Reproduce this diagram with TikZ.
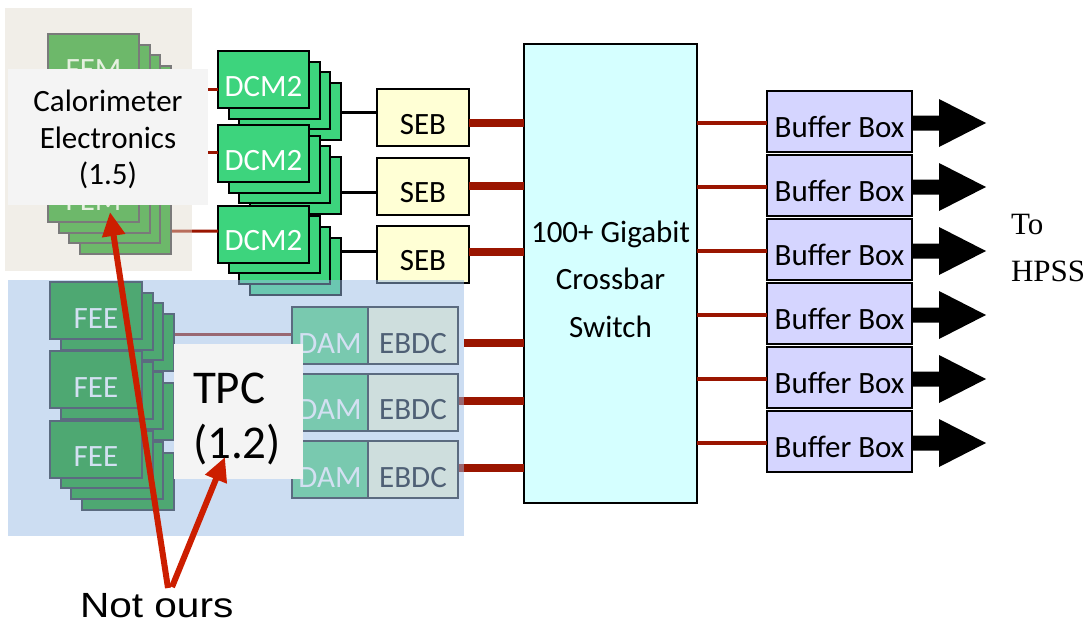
\documentclass[tikz,border=0pt]{standalone}
\usepackage{fontspec}
\setmainfont{Carlito}
\newfontfamily\timesfont{Liberation Serif}
\newfontfamily\notfont[FakeStretch=1.16]{Liberation Sans}
\usetikzlibrary{arrows.meta,calc}
\definecolor{femfill}{HTML}{6DB86A}
\definecolor{femedge}{HTML}{7A7A7A}
\definecolor{femtext}{HTML}{E6F0E0}
\definecolor{calbase}{HTML}{E0D9CC}
\definecolor{labelgray}{HTML}{F4F4F4}
\definecolor{dcmfill}{HTML}{3DD47D}
\definecolor{sebfill}{HTML}{FFFFD5}
\definecolor{swfill}{HTML}{D5FFFF}
\definecolor{buffill}{HTML}{D5D5FF}
\definecolor{redline}{HTML}{9A1500}
\definecolor{tpcbase}{HTML}{99BBE5}
\definecolor{feefill}{HTML}{4EA872}
\definecolor{damfill}{HTML}{79C9AF}
\definecolor{ebdcfill}{HTML}{CEDEDD}
\definecolor{tpcedge}{HTML}{5B6B80}
\definecolor{lavtext}{HTML}{D3E0F2}
\definecolor{ebdctext}{HTML}{4F6075}
\definecolor{arrowred}{HTML}{CC1E00}
\pgfdeclarelayer{calover}
\pgfdeclarelayer{caltop}
\pgfdeclarelayer{tpcover}
\pgfdeclarelayer{tpctop}
\pgfdeclarelayer{toplayer}
\pgfsetlayers{main,calover,caltop,tpcover,tpctop,toplayer}
\begin{document}
\begin{tikzpicture}[x=1pt,y=-1pt,
  every node/.style={inner sep=0pt, outer sep=0pt},
  box/.style={draw, rectangle, line width=2pt},
  fs/.style={font=\fontsize{31}{31}\selectfont},
  txtA/.style={fs, text height=33pt, text depth=0pt},
  txtB/.style={fs, text height=31pt, text depth=0pt},
  txtC/.style={fs, text height=35pt, text depth=0pt},
  femst/.style={box, draw=femedge, fill=femfill, minimum width=91pt, minimum height=57pt},
  dcmst/.style={box, draw=black, fill=dcmfill, minimum width=91pt, minimum height=57pt},
  feest/.style={box, draw=tpcedge, fill=feefill, minimum width=92pt, minimum height=57pt},
  sebst/.style={box, draw=black, fill=sebfill, minimum width=92pt, minimum height=57pt},
  bufst/.style={box, draw=black, line width=2.5pt, fill=buffill, minimum width=145pt, minimum height=61pt},
  damst/.style={box, draw=tpcedge, fill=damfill, minimum width=76pt, minimum height=57pt},
  ebdcst/.style={box, draw=tpcedge, fill=ebdcfill, minimum width=90pt, minimum height=57pt},
  redthin/.style={draw=redline, line width=3pt},
  redmid/.style={draw=redline, line width=3.5pt},
  redthick/.style={draw=redline, line width=8pt},
  blk/.style={draw=black, line width=3pt},
  redarrow/.style={draw=arrowred, line width=6pt, -{Triangle[length=24pt,width=22pt]}}
]
\useasboundingbox (0,0) rectangle (1088,624);

% ---------- Calorimeter region ----------
\begin{pgfonlayer}{calover}
\node[fill=calbase, fill opacity=0.45, minimum width=187pt, minimum height=263pt] (calbg) at (98.5,139.5) {};
\end{pgfonlayer}
\begin{pgfonlayer}{caltop}
\foreach \k in {3,2,1} \node[femst] (fema-\k) at (93.5+10.67*\k,62.5+10.67*\k) {};
\node[femst, txtA, text=femtext] (fema) at (93.5,62.5) {FEM};
\foreach \k in {3,2,1} \node[femst] (femb-\k) at (93.5+10.67*\k,193.5+10.67*\k) {};
\node[femst, txtA, text=femtext] (femb) at (93.5,193.5) {FEM};
\node[fill=labelgray, minimum width=200pt, minimum height=136pt] (callabel) at (108,137) {};
\node[fs, anchor=base] (calt1) at (108,111) {Calorimeter};
\node[fs, anchor=base] (calt2) at (108,148) {Electronics};
\node[fs, anchor=base] (calt3) at (108,184) {(1.5)};
\end{pgfonlayer}

% ---------- DCM2 stacks ----------
\foreach \i/\y in {1/79.5,2/153.5,3/234} {
  \foreach \k in {3,2,1} \node[dcmst] (dcm\i-\k) at (263.5+10.67*\k,\y+10.67*\k) {};
  \node[dcmst, txtA, text=white] (dcm\i) at (263.5,\y) {DCM2};
}
\draw[redthin] ($(femb-3.east)+(0,5.5)$) -- ($(dcm3.west)+(0,-3)$);
\begin{pgfonlayer}{caltop}
\draw[redthin] ($(dcm1.west)+(0,9.5)$) coordinate (a1) -- (a1 -| callabel.east);
\draw[redthin] ($(dcm2.west)+(0,-1.5)$) coordinate (a2) -- (a2 -| callabel.east);
\end{pgfonlayer}

% ---------- SEB ----------
\node[sebst, txtA] (seb1) at (423,117.5) {SEB};
\node[sebst, txtA] (seb2) at (423,186) {SEB};
\node[sebst, txtA] (seb3) at (423,254) {SEB};
\draw[blk] ($(seb1.west)+(0,-5.5)$) coordinate (b1) -- (b1 -| dcm1-3.east);
\draw[blk] ($(seb2.west)+(0,6)$) coordinate (b2) -- (b2 -| dcm2-3.east);
\draw[blk] ($(seb3.west)+(0,-3)$) coordinate (b3) -- (b3 -| dcm3-3.east);

% ---------- Switch ----------
\node[box, line width=2.5pt, fill=swfill, minimum width=173pt, minimum height=459pt] (sw) at (610.5,273.5) {};
\node[fs, anchor=base] (swt1) at (610.5,242) {100+ Gigabit};
\node[fs, anchor=base] (swt2) at (610.5,289.5) {Crossbar};
\node[fs, anchor=base] (swt3) at (610.5,337) {Switch};
\draw[redthick] ($(seb1.east)+(0,5.5)$) coordinate (c1) -- (c1 -| sw.west);
\draw[redthick] (seb2.east) -- (seb2.east -| sw.west);
\draw[redthick] ($(seb3.east)+(0,-2)$) coordinate (c3) -- (c3 -| sw.west);

% ---------- Buffer boxes ----------
\foreach \i in {1,...,6} {
  \node[bufst, txtB] (bb\i) at (839.5,57.5+64*\i) {Buffer Box};
  \draw[redmid] ($(bb\i.west)+(0,1.5)$) coordinate (d\i) -- (d\i -| sw.east);
  \fill[black] ($(bb\i.east)+(0,-6)$) -- ++(27,0) -- ++(0,-16.5) -- ++(47,24) -- ++(-47,24) -- ++(0,-16.5) -- ++(-27,0) -- cycle;
}
\node[font=\timesfont\fontsize{31}{31}\selectfont, anchor=base west] (toa) at (1011,234) {To};
\node[font=\timesfont\fontsize{31}{31}\selectfont, anchor=base west] (tob) at (1011,281) {HPSS};

% ---------- TPC region ----------
\begin{pgfonlayer}{tpcover}
\node[fill=tpcbase, fill opacity=0.5, minimum width=456pt, minimum height=256pt] (tpcbg) at (236,408) {};
\end{pgfonlayer}
\begin{pgfonlayer}{tpctop}
\foreach \i/\y in {1/310.5,2/379.5,3/449} {
  \foreach \k in {3,2,1} \node[feest] (fee\i-\k) at (96+10.67*\k,\y+10.67*\k) {};
  \node[feest, txtC, text=lavtext] (fee\i) at (96,\y) {FEE};
}
\foreach \i/\y in {1/335.5,2/402,3/469.5} {
  \node[damst, txtC, text=lavtext] (dam\i) at (330,\y) {DAM};
  \node[ebdcst, txtC, text=ebdctext] (ebdc\i) at (413,\y) {EBDC};
}
\end{pgfonlayer}
\coordinate (e1) at ($(ebdc1.east)+(0,7.5)$);
\draw[redthick] (e1 -| tpcbg.east) -- (e1 -| sw.west);
\draw[redthick] ($(ebdc2.east)+(0,-1)$) coordinate (e2) -- (e2 -| sw.west);
\draw[redthick] ($(ebdc3.east)+(0,-1.5)$) coordinate (e3) -- (e3 -| sw.west);
\draw[redthin] ($(dam1.west)+(0,-1.5)$) coordinate (f1) -- (f1 -| fee1-3.east);

% ---------- Labels and arrows ----------
\begin{pgfonlayer}{toplayer}
\node[fill=labelgray, minimum width=129pt, minimum height=135pt] (tpclabel) at (238.5,411.5) {};
\node[font=\fontsize{47}{47}\selectfont, anchor=base west] (tpct1) at (193,403) {TPC};
\node[font=\fontsize{47}{47}\selectfont, anchor=base west] (tpct2) at (193,458) {(1.2)};
\coordinate (nb1) at (168,588);
\coordinate (nb2) at (172,587);
\coordinate (caltip) at (110,212);
\coordinate (tpctip) at (225,457);
\draw[redarrow] (nb1) -- (caltip);
\draw[redarrow] (nb2) -- (tpctip);
\node[font=\notfont\fontsize{35}{35}\selectfont, anchor=base west] (notours) at (80,617) {Not ours};
\end{pgfonlayer}
\end{tikzpicture}
\end{document}
